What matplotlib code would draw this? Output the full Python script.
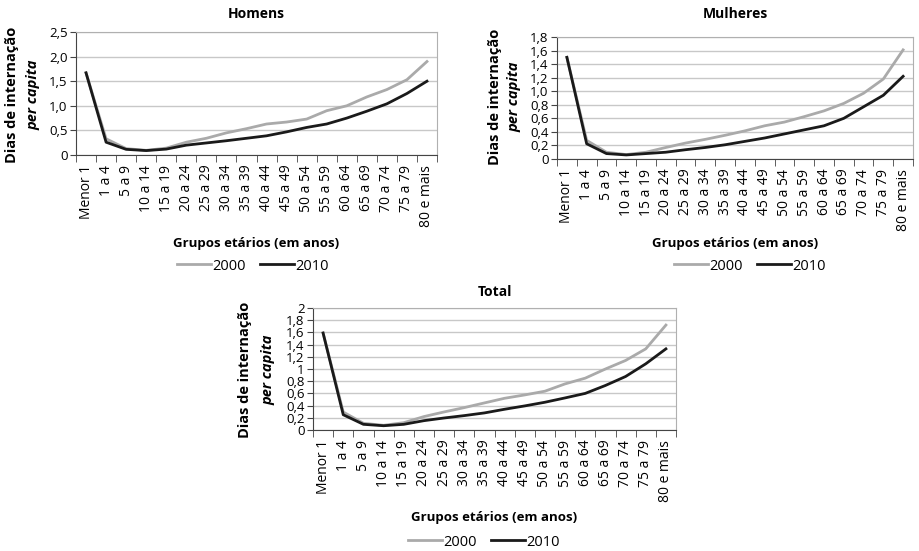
import matplotlib.pyplot as plt
from matplotlib.lines import Line2D

plt.rcParams['font.family'] = ['Open Sans', 'DejaVu Sans']

grupos = ['Menor 1', '1 a 4', '5 a 9', '10 a 14', '15 a 19', '20 a 24', '25 a 29',
          '30 a 34', '35 a 39', '40 a 44', '45 a 49', '50 a 54', '55 a 59',
          '60 a 64', '65 a 69', '70 a 74', '75 a 79', '80 e mais']

homens_2000 = [1.67, 0.33, 0.13, 0.095, 0.14, 0.26, 0.34, 0.45, 0.535, 0.63,
               0.67, 0.73, 0.90, 1.00, 1.18, 1.33, 1.53, 1.90]
homens_2010 = [1.67, 0.26, 0.115, 0.09, 0.12, 0.20, 0.245, 0.29, 0.34, 0.39,
               0.47, 0.56, 0.63, 0.75, 0.89, 1.04, 1.25, 1.50]

mulheres_2000 = [1.50, 0.275, 0.10, 0.065, 0.10, 0.17, 0.235, 0.29, 0.35, 0.415,
                 0.49, 0.545, 0.625, 0.71, 0.82, 0.97, 1.18, 1.61]
mulheres_2010 = [1.50, 0.225, 0.08, 0.06, 0.08, 0.10, 0.137, 0.17, 0.21, 0.26,
                 0.31, 0.37, 0.43, 0.49, 0.60, 0.77, 0.94, 1.22]

total_2000 = [1.59, 0.295, 0.11, 0.077, 0.12, 0.22, 0.296, 0.367, 0.444, 0.52,
              0.575, 0.636, 0.756, 0.85, 1.00, 1.14, 1.33, 1.72]
total_2010 = [1.59, 0.25, 0.093, 0.07, 0.093, 0.153, 0.197, 0.236, 0.28, 0.34,
              0.395, 0.455, 0.526, 0.60, 0.73, 0.877, 1.085, 1.33]

homens_ticks = [0, 0.5, 1.0, 1.5, 2.0, 2.5]
homens_labels = ['0', '0,5', '1,0', '1,5', '2,0', '2,5']
mulheres_ticks = [0, 0.2, 0.4, 0.6, 0.8, 1.0, 1.2, 1.4, 1.6, 1.8]
mulheres_labels = ['0', '0,2', '0,4', '0,6', '0,8', '1,0', '1,2', '1,4', '1,6', '1,8']
total_ticks = [0, 0.2, 0.4, 0.6, 0.8, 1.0, 1.2, 1.4, 1.6, 1.8, 2.0]
total_labels = ['0', '0,2', '0,4', '0,6', '0,8', '1', '1,2', '1,4', '1,6', '1,8', '2']

C2000 = '#aaaaaa'
C2010 = '#1a1a1a'
W, H = 919, 551

fig = plt.figure(figsize=(9.19, 5.51), dpi=100)


def painel(rect, titulo, tit_y, s2000, s2010, yticks, ylabels, ylab_x, ylab_y, xlab_y, leg_x, leg_y):
    ax = fig.add_axes(rect)
    x = range(len(grupos))
    ax.plot(x, s2000, color=C2000, lw=2)
    ax.plot(x, s2010, color=C2010, lw=2)
    ax.set_xlim(-0.5, len(grupos) - 0.5)
    ax.set_ylim(yticks[0], yticks[-1])
    ax.set_yticks(yticks)
    ax.set_yticklabels(ylabels, fontsize=9.5)
    ax.set_xticks(list(x))
    ax.set_xticklabels(grupos, rotation=90, fontsize=10)
    ax.set_xticks([i - 0.5 for i in range(len(grupos) + 1)], minor=True)
    ax.tick_params(axis='x', which='major', length=0, pad=7)
    ax.tick_params(axis='x', which='minor', length=5, color='#444444', direction='out')
    ax.tick_params(axis='y', length=4, color='#444444', pad=2)
    ax.grid(axis='y', color='#c8c8c8', lw=1)
    ax.set_axisbelow(True)
    for s in ['top', 'right']:
        ax.spines[s].set_color('#b0b0b0')
    for s in ['left', 'bottom']:
        ax.spines[s].set_color('#444444')
    cx = rect[0] + rect[2] / 2
    fig.text(cx, 1 - tit_y / H, titulo, ha='center', va='center',
             fontsize=10, fontweight='bold')
    # rotulo do eixo y em duas linhas
    fig.text(ylab_x[0] / W, 1 - ylab_y / H, 'Dias de internação', rotation=90,
             ha='center', va='center', fontsize=10.5, fontweight='bold')
    fig.text(ylab_x[1] / W, 1 - ylab_y / H, 'per capita', rotation=90,
             ha='center', va='center', fontsize=10.5, fontweight='bold', style='italic')
    fig.text(cx, 1 - xlab_y / H, 'Grupos etários (em anos)', ha='center', va='center',
             fontsize=9.5, fontweight='bold')
    handles = [Line2D([], [], color=C2000, lw=2), Line2D([], [], color=C2010, lw=2)]
    fig.legend(handles, ['2000', '2010'], loc='center', ncol=2, frameon=False,
               bbox_to_anchor=(leg_x / W, 1 - leg_y / H), fontsize=10.5,
               handlelength=2.3, handletextpad=0.1, columnspacing=1.0)
    return ax


painel([76 / W, 1 - 155 / H, 361 / W, 123 / H], 'Homens', 14, homens_2000, homens_2010,
       homens_ticks, homens_labels, (12, 33), 95, 243, 253, 266)
painel([557 / W, 1 - 159 / H, 356 / W, 122 / H], 'Mulheres', 14, mulheres_2000, mulheres_2010,
       mulheres_ticks, mulheres_labels, (495, 514), 97, 243, 750, 266)
painel([313 / W, 1 - 430 / H, 363 / W, 122 / H], 'Total', 292, total_2000, total_2010,
       total_ticks, total_labels, (245, 268), 370, 517, 484, 542)

fig.savefig('out.png', dpi=100)
